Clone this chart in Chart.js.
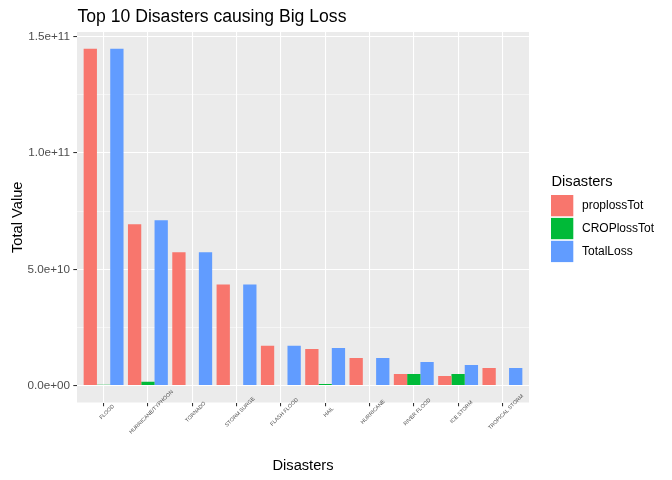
<!DOCTYPE html>
<html><head><meta charset="utf-8">
<script src="https://cdn.jsdelivr.net/npm/chart.js@4.4.0/dist/chart.umd.min.js"></script>
<style>html,body{margin:0;padding:0;background:#fff;} #wrap{width:672px;height:480px;position:relative;}</style>
</head><body><div id="wrap"><canvas id="c"></canvas></div>
<script>
const categories = ["FLOOD","HURRICANE/TYPHOON","TORNADO","STORM SURGE","FLASH FLOOD","HAIL","HURRICANE","RIVER FLOOD","ICE STORM","TROPICAL STORM"];
const proplossTot = [1.4475e11, 6.94e10, 5.73e10, 4.35e10, 1.71e10, 1.58e10, 1.19e10, 5.0e9, 4.2e9, 7.6e9];
const CROPlossTot = [4e8, 1.7e9, 3e8, 0, 3e8, 7e8, 0, 5.0e9, 5.0e9, 0];
const TotalLoss = [1.4475e11, 7.11e10, 5.73e10, 4.35e10, 1.71e10, 1.62e10, 1.19e10, 1.02e10, 8.9e9, 7.6e9];
const seriesNames = ["proplossTot","CROPlossTot","TotalLoss"];
const seriesColors = ["#F8766D","#00BA38","#619CFF"];
const yTickValues = [0, 5e10, 1e11, 1.5e11];
const yTickLabels = ["0.0e+00","5.0e+10","1.0e+11","1.5e+11"];
const yMinorValues = [2.5e10, 7.5e10, 1.25e11];
const titleText = "Top 10 Disasters causing Big Loss";
const xTitle = "Disasters";
const yTitle = "Total Value";
const legendTitle = "Disasters";

const FONT = "'Liberation Sans', Arial, sans-serif";
const seriesValues = [proplossTot, CROPlossTot, TotalLoss];
const datasets = seriesNames.map((n, k) => ({
  label: n,
  data: seriesValues[k].map((v, i) => ({x: i + 1, y: v})),
  backgroundColor: seriesColors[k],
  borderWidth: 0,
  categoryPercentage: 0.9,
  barPercentage: 1.0
}));

const isMajor = v => yTickValues.some(t => Math.abs(t - v) < 1);

const decor = {
  id: 'decor',
  beforeDraw(chart) {
    const ctx = chart.ctx, a = chart.chartArea;
    ctx.save();
    ctx.fillStyle = '#FFFFFF';
    ctx.fillRect(0, 0, chart.width, chart.height);
    ctx.fillStyle = '#EBEBEB';
    ctx.fillRect(a.left, a.top, a.right - a.left, a.bottom - a.top);
    ctx.restore();
  },
  afterDraw(chart) {
    const ctx = chart.ctx, a = chart.chartArea, xs = chart.scales.x;
    ctx.save();
    ctx.fillStyle = '#000000';
    ctx.font = '17.6px ' + FONT;
    ctx.textAlign = 'left';
    ctx.textBaseline = 'alphabetic';
    ctx.fillText(titleText, 77.5, 21.5);
    ctx.fillStyle = '#4D4D4D';
    ctx.font = '5.33px ' + FONT;
    ctx.textAlign = 'center';
    ctx.textBaseline = 'middle';
    categories.forEach((c, i) => {
      const px = xs.getPixelForValue(i + 1);
      ctx.save();
      ctx.translate(px + 3.4, 412);
      ctx.rotate(-Math.PI / 4);
      ctx.fillText(c, 0, 0);
      ctx.restore();
    });
    ctx.fillStyle = '#000000';
    ctx.font = '14.67px ' + FONT;
    ctx.textAlign = 'center';
    ctx.textBaseline = 'alphabetic';
    ctx.fillText(xTitle, (a.left + a.right) / 2, 469.5);
    ctx.save();
    ctx.translate(21.5, (a.top + a.bottom) / 2);
    ctx.rotate(-Math.PI / 2);
    ctx.fillText(yTitle, 0, 0);
    ctx.restore();
    ctx.textAlign = 'left';
    ctx.fillText(legendTitle, 551.5, 186);
    ctx.font = '12px ' + FONT;
    ctx.textBaseline = 'middle';
    seriesNames.forEach((n, k) => {
      const y0 = 195 + k * 22.9;
      ctx.fillStyle = seriesColors[k];
      ctx.fillRect(551, y0, 22.3, 21.3);
      ctx.fillStyle = '#000000';
      ctx.fillText(n, 582, y0 + 10.8);
    });
    ctx.restore();
  }
};

new Chart(document.getElementById('c'), {
  type: 'bar',
  data: {datasets},
  options: {
    responsive: true,
    maintainAspectRatio: false,
    animation: false,
    layout: {padding: {left: 0, top: 32, right: 143, bottom: 0}},
    plugins: {legend: {display: false}, title: {display: false}, tooltip: {enabled: false}},
    scales: {
      x: {
        type: 'linear',
        offset: false,
        min: 0.4, max: 10.6,
        afterBuildTicks: s => { s.ticks = categories.map((c, i) => ({value: i + 1})); },
        afterFit: s => { s.height = 77.5; },
        ticks: {display: true, callback: () => '', autoSkip: false, maxRotation: 0, padding: 0},
        grid: {offset: false, color: '#FFFFFF', lineWidth: 1.07, drawTicks: true, tickLength: 3.7, tickColor: '#333333', tickWidth: 1.07},
        border: {display: false}
      },
      y: {
        type: 'linear',
        min: -7.24e9, max: 1.52e11,
        afterBuildTicks: s => {
          s.ticks = yTickValues.concat(yMinorValues).sort((p, q) => p - q).map(v => ({value: v}));
        },
        afterFit: s => { s.width = 77; },
        ticks: {
          autoSkip: false,
          padding: 3.3,
          color: '#4D4D4D',
          font: {family: FONT, size: 11.7},
          callback: v => { const i = yTickValues.findIndex(t => Math.abs(t - v) < 1); return i >= 0 ? yTickLabels[i] : ''; }
        },
        grid: {
          color: '#FFFFFF',
          lineWidth: c => isMajor(c.tick.value) ? 1.07 : 0.53,
          tickLength: 3.7,
          tickWidth: 1.07,
          tickColor: c => isMajor(c.tick.value) ? '#333333' : 'rgba(0,0,0,0)'
        },
        border: {display: false}
      }
    }
  },
  plugins: [decor]
});
</script>
</body></html>
